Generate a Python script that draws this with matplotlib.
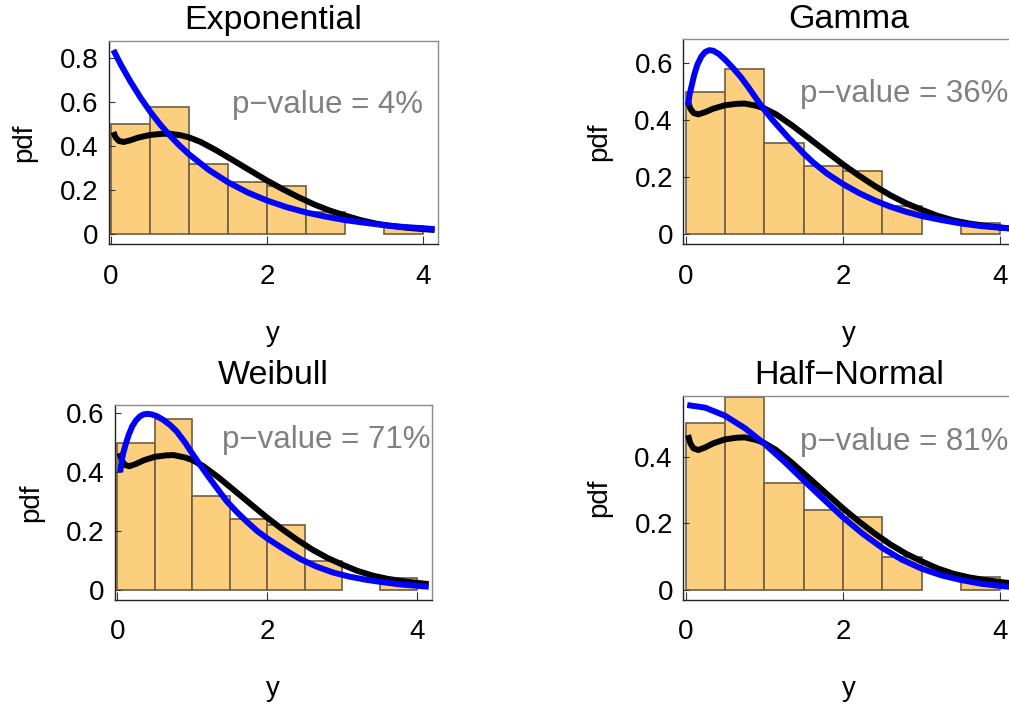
import matplotlib
matplotlib.use("Agg")
import matplotlib.pyplot as plt

plt.rcParams['font.family'] = ['Liberation Sans', 'DejaVu Sans']

W, H = 1009, 706

# sample histogram, bin width 0.5
bin_left = [0.0, 0.5, 1.0, 1.5, 2.0, 2.5, 3.0, 3.5]
bin_height = [0.50, 0.58, 0.32, 0.24, 0.22, 0.10, 0.00, 0.04]

# smoothed (kernel) density of the sample
kde_x = [0.03, 0.06, 0.10, 0.16, 0.25, 0.35, 0.50, 0.65, 0.75, 0.90, 1.00, 1.15,
         1.35, 1.55, 1.80, 2.00, 2.20, 2.40, 2.60, 2.80, 3.00, 3.20, 3.40, 3.60,
         3.80, 4.00, 4.15]
kde_y = [0.465, 0.440, 0.425, 0.420, 0.428, 0.440, 0.452, 0.457, 0.458, 0.450,
         0.441, 0.420, 0.382, 0.340, 0.287, 0.245, 0.206, 0.170, 0.137, 0.109,
         0.086, 0.065, 0.049, 0.038, 0.030, 0.024, 0.020]

# fitted densities
exp_x = [0.03, 0.125, 0.25, 0.375, 0.50, 0.625, 0.75, 0.875, 1.00, 1.25, 1.50,
         1.75, 2.00, 2.25, 2.50, 2.75, 3.00, 3.25, 3.50, 3.75, 4.00, 4.15]
exp_y = [0.838, 0.772, 0.694, 0.623, 0.559, 0.502, 0.451, 0.405, 0.364, 0.294,
         0.237, 0.191, 0.154, 0.124, 0.100, 0.081, 0.065, 0.053, 0.042, 0.034,
         0.028, 0.024]

gam_x = [0.03, 0.05, 0.08, 0.11, 0.15, 0.20, 0.25, 0.30, 0.35, 0.42, 0.50, 0.60,
         0.70, 0.80, 0.90, 1.00, 1.10, 1.20, 1.30, 1.40, 1.50, 1.62, 1.80, 2.00,
         2.20, 2.40, 2.60, 2.80, 3.00, 3.25, 3.50, 3.75, 4.00, 4.15]
gam_y = [0.450, 0.490, 0.525, 0.560, 0.595, 0.623, 0.639, 0.645, 0.643, 0.632,
         0.612, 0.583, 0.551, 0.514, 0.474, 0.436, 0.402, 0.371, 0.340, 0.312,
         0.283, 0.252, 0.212, 0.176, 0.145, 0.119, 0.097, 0.079, 0.064, 0.050,
         0.038, 0.029, 0.023, 0.020]

wei_x = [0.04, 0.06, 0.08, 0.11, 0.15, 0.20, 0.25, 0.30, 0.35, 0.40, 0.46, 0.53,
         0.61, 0.70, 0.79, 0.90, 1.00, 1.10, 1.20, 1.33, 1.46, 1.60, 1.73, 1.87,
         2.00, 2.15, 2.30, 2.44, 2.65, 2.88, 3.10, 3.33, 3.55, 3.77, 4.00, 4.15]
wei_y = [0.400, 0.440, 0.465, 0.493, 0.525, 0.556, 0.576, 0.589, 0.596, 0.598,
         0.596, 0.590, 0.578, 0.561, 0.539, 0.502, 0.463, 0.426, 0.390, 0.345,
         0.301, 0.263, 0.231, 0.199, 0.175, 0.150, 0.126, 0.105, 0.080, 0.059,
         0.045, 0.034, 0.026, 0.019, 0.014, 0.011]

hn_x = [0.02, 0.25, 0.50, 0.75, 1.00, 1.25, 1.50, 1.75, 2.00, 2.25, 2.50, 2.75,
        3.00, 3.25, 3.50, 3.75, 4.00, 4.15]
hn_y = [0.555, 0.547, 0.523, 0.486, 0.439, 0.386, 0.329, 0.273, 0.218, 0.169,
        0.126, 0.091, 0.064, 0.044, 0.030, 0.019, 0.012, 0.009]

titles = ["Exponential", "Gamma", "Weibull", "Half\u2212Normal"]
p_values = [4, 36, 71, 81]
fits = [(exp_x, exp_y), (gam_x, gam_y), (wei_x, wei_y), (hn_x, hn_y)]

# frame of each panel in pixels: left, right, top, bottom
frames = [(108.7, 437.7, 41.0, 244.3),
          (683.3, 1015.3, 39.3, 244.3),
          (115.0, 431.7, 405.0, 600.0),
          (683.3, 1015.3, 395.7, 600.0)]
ylims = [(-0.045, 0.879), (-0.035, 0.683), (-0.034, 0.628), (-0.03, 0.583)]
ytick_sets = [[0, 0.2, 0.4, 0.6, 0.8], [0, 0.2, 0.4, 0.6],
              [0, 0.2, 0.4, 0.6], [0, 0.2, 0.4]]
text_y = [0.59, 0.49, 0.51, 0.445]
title_pads = [8.4, 7.9, 14.9, 8.2]


def tick_text(v):
    return "0" if v == 0 else f"{v:g}"


fig = plt.figure(figsize=(W / 100, H / 100), dpi=100)

for i in range(4):
    l, r, t, b = frames[i]
    ax = fig.add_axes([l / W, 1 - b / H, (r - l) / W, (b - t) / H])

    heights = [h for h in bin_height if h > 0]
    lefts = [x for x, h in zip(bin_left, bin_height) if h > 0]
    ax.bar(lefts, heights, width=0.5, align='edge', color='#fccf7f',
           edgecolor='#6e5d45', linewidth=1.2, zorder=1)

    ax.plot(kde_x, kde_y, color='black', lw=4.3, solid_capstyle='butt',
            solid_joinstyle='round', zorder=2)
    fx, fy = fits[i]
    ax.plot(fx, fy, color='#0000ff', lw=4.3, solid_capstyle='butt',
            solid_joinstyle='round', zorder=3)

    ax.text(2.78, text_y[i], f"p\u2212value = {p_values[i]}%", color='#808080',
            fontsize=22.5, ha='center', va='center', zorder=4)

    ax.set_xlim(-0.03, 4.19)
    ax.set_ylim(*ylims[i])
    ax.set_xticks([0, 2, 4])
    ax.set_xticklabels(["0", "2", "4"])
    ax.set_yticks(ytick_sets[i])
    ax.set_yticklabels([tick_text(v) for v in ytick_sets[i]])
    ax.tick_params(axis='x', direction='in', length=5.5, width=0.8,
                   color='#333333', labelsize=20, pad=14.0)
    ax.tick_params(axis='y', direction='in', length=4.5, width=0.8,
                   color='#333333', labelsize=20, pad=7.5)

    for side in ('left', 'bottom'):
        ax.spines[side].set_color('#222222')
        ax.spines[side].set_linewidth(1.0)
    for side in ('top', 'right'):
        ax.spines[side].set_color('#8c8c8c')
        ax.spines[side].set_linewidth(1.0)

    ax.set_title(titles[i], fontsize=24.5, pad=title_pads[i])
    ax.set_xlabel("y", fontsize=20)
    ax.set_ylabel("pdf", fontsize=20)
    ax.xaxis.label.set_va('center')
    ax.yaxis.label.set_va('center')
    ax.xaxis.set_label_coords(0.5, -89.5 / (b - t))
    ax.yaxis.set_label_coords(-84.0 / (r - l), 0.5)

fig.savefig("out.png", dpi=100)
